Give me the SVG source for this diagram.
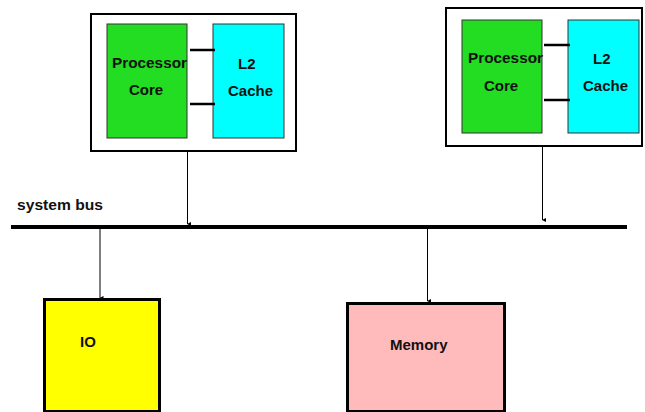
<svg xmlns="http://www.w3.org/2000/svg" width="645" height="412" viewBox="0 0 645 412">
  <style>
    .frame { fill: #ffffff; stroke: #000000; stroke-width: 2; }
    .core { fill: #22dd22; stroke: #333333; stroke-width: 1; }
    .cache { fill: #00ffff; stroke: #333333; stroke-width: 1; }
    .link { stroke: #000000; stroke-width: 2.5; }
    .lbl { font-family: "Liberation Sans", Arial, sans-serif; font-size: 15px; font-weight: bold; fill: #111111; }
    .wire { stroke: #000000; stroke-width: 1; fill: none; }
    .bus { stroke: #000000; stroke-width: 4; }
    .dev { stroke: #000000; stroke-width: 3; }
  </style>
  <defs>
    <marker id="tip" markerWidth="4" markerHeight="4" refX="2" refY="3.5" orient="auto-start-reverse" markerUnits="userSpaceOnUse">
      <path d="M0,0 L4,0 L2,4 Z" fill="#000000"/>
    </marker>
  </defs>
  <rect width="645" height="412" fill="#ffffff"/>

  <!-- processor 1 -->
  <g id="cpu1">
    <rect class="frame" x="91" y="14" width="205" height="137"/>
    <rect class="core" x="107" y="24" width="80" height="114"/>
    <rect class="cache" x="213" y="24" width="71" height="114"/>
    <line class="link" x1="190" y1="50" x2="215" y2="50"/>
    <line class="link" x1="190" y1="104" x2="215" y2="104"/>
    <text class="lbl" x="112" y="68" textLength="75" lengthAdjust="spacingAndGlyphs">Processor</text>
    <text class="lbl" x="129" y="95">Core</text>
    <text class="lbl" x="238" y="69">L2</text>
    <text class="lbl" x="228" y="96">Cache</text>
  </g>

  <!-- processor 2 -->
  <g id="cpu2">
    <rect class="frame" x="446" y="8" width="196" height="138"/>
    <rect class="core" x="462" y="20" width="80" height="113"/>
    <rect class="cache" x="568" y="20" width="71" height="113"/>
    <line class="link" x1="544" y1="45" x2="570" y2="45"/>
    <line class="link" x1="544" y1="100" x2="570" y2="100"/>
    <text class="lbl" x="468" y="63" textLength="75" lengthAdjust="spacingAndGlyphs">Processor</text>
    <text class="lbl" x="484" y="91">Core</text>
    <text class="lbl" x="593" y="64">L2</text>
    <text class="lbl" x="583" y="91">Cache</text>
  </g>

  <!-- IO device -->
  <g id="io">
    <rect class="dev" x="44.5" y="299.5" width="115" height="112" fill="#ffff00"/>
    <text class="lbl" x="80" y="347" font-weight="normal">IO</text>
  </g>

  <!-- main memory -->
  <g id="memory">
    <rect class="dev" x="347.5" y="303.5" width="157" height="108" fill="#ffbbbb"/>
    <text class="lbl" x="390" y="350">Memory</text>
  </g>

  <!-- system bus and its taps -->
  <g id="connectors">
    <line class="bus" x1="11" y1="227" x2="627" y2="227"/>
    <text class="lbl" x="17" y="210" font-size="11" textLength="86" lengthAdjust="spacingAndGlyphs">system bus</text>
    <line class="wire" x1="187.5" y1="152" x2="187.5" y2="224" marker-end="url(#tip)"/>
    <line class="wire" x1="542.5" y1="147" x2="542.5" y2="220" marker-end="url(#tip)"/>
    <line class="wire" x1="100" y1="229" x2="100" y2="298" stroke="#888888" stroke-width="2" marker-end="url(#tip)"/>
    <line class="wire" x1="427.5" y1="229" x2="427.5" y2="301" marker-end="url(#tip)"/>
  </g>
</svg>
